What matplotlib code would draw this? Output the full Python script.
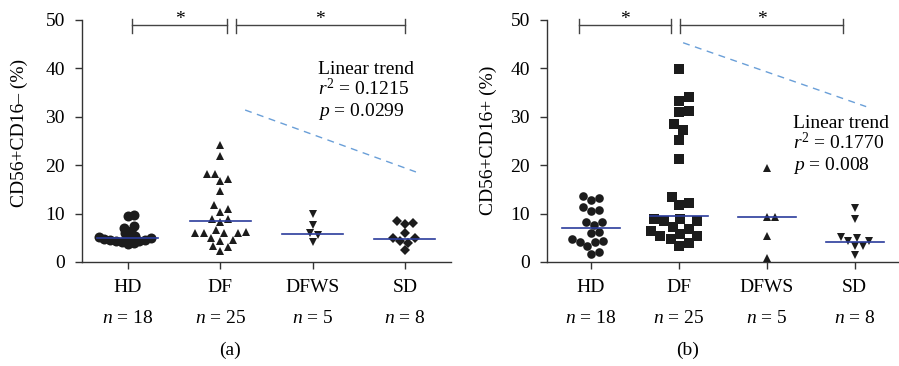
import numpy as np
import matplotlib
matplotlib.use("Agg")
import matplotlib.pyplot as plt

plt.rcParams['font.family'] = ['Liberation Serif', 'DejaVu Serif']
plt.rcParams['mathtext.fontset'] = 'custom'
plt.rcParams['mathtext.rm'] = 'Liberation Serif'
plt.rcParams['mathtext.it'] = 'Liberation Serif:italic'

# ---- donnees ----
groups = ["HD", "DF", "DFWS", "SD"]
n_sizes = [18, 25, 5, 8]

a_hd = [9.7, 9.5, 7.4, 7.1, 6.4, 5.9, 5.3, 5.2, 5.0, 5.0, 4.8, 4.6, 4.5, 4.4, 4.3, 4.2, 4.0, 3.8]
a_df = [24.2, 21.8, 18.1, 18.1, 17.2, 16.7, 14.7, 11.7, 11.0, 10.4, 8.9, 8.8, 8.3,
        6.7, 6.2, 6.0, 5.9, 5.9, 5.9, 4.9, 4.5, 4.3, 3.2, 3.1, 2.3]
a_dfws = [9.9, 7.7, 5.9, 5.5, 4.1]
a_sd = [8.4, 8.0, 7.8, 5.9, 4.9, 4.9, 4.3, 3.9, 2.4]
a_med = [5.0, 8.5, 5.7, 4.8]
a_trend_x = [2.27, 4.12]
a_trend_y = [31.4, 18.6]
a_stats = ["0.1215", "0.0299"]

b_hd = [13.6, 13.3, 12.8, 11.3, 10.7, 10.5, 8.2, 8.2, 7.6, 6.1, 6.0, 4.8, 4.3, 4.1, 4.1, 3.3, 2.1, 1.7]
b_df = [39.8, 34.0, 33.3, 31.1, 30.9, 28.5, 27.2, 25.2, 21.3, 13.4, 12.1, 11.7,
        8.9, 8.9, 8.4, 8.4, 7.3, 6.9, 6.4, 5.7, 5.3, 5.3, 4.8, 4.0, 3.4]
b_dfws = [19.4, 9.2, 9.2, 5.4, 0.8]
b_sd = [11.2, 8.8, 5.2, 5.0, 4.3, 4.3, 3.4, 3.4, 1.4]
b_med = [7.0, 9.5, 9.3, 4.1]
b_trend_x = [2.05, 4.13]
b_trend_y = [45.3, 32.1]
b_stats = ["0.1770", "0.008"]

a_brackets = [(1.05, 2.07), (2.17, 4.0)]
b_brackets = [(0.87, 1.91), (2.02, 3.87)]

BLACK = "#1c1c1c"
MEDC = "#2b3c9c"
TRENDC = "#6a9fd8"
AXC = "#333333"
FS = 14


def swarm(ax, pos, vals, d):
    """positions x en essaim (d en pixels)"""
    pts = ax.transData.transform(np.column_stack([np.full(len(vals), pos), vals]))
    x0 = pts[0, 0]
    ys = pts[:, 1]
    xs = np.zeros(len(vals))
    placed = []
    for i in np.argsort(ys):
        y = ys[i]
        near = [(px, py) for px, py in placed if abs(py - y) < d]
        cands = [0.0]
        for px, py in near:
            dx = np.sqrt(d * d - (py - y) ** 2)
            cands += [px + dx, px - dx]
        cands.sort(key=abs)
        for c in cands:
            if all((c - px) ** 2 + (y - py) ** 2 >= d * d - 1e-6 for px, py in near):
                break
        placed.append((c, y))
        xs[i] = c
    back = ax.transData.inverted().transform(np.column_stack([x0 + xs, ys]))
    return back[:, 0]


def panel(ax, series, markers, med, tx, ty, stats, brackets, txt_pos):
    ax.set_xlim(0.5, 4.5)
    ax.set_ylim(0, 50)
    for sp in ["top", "right"]:
        ax.spines[sp].set_visible(False)
    for sp in ["left", "bottom"]:
        ax.spines[sp].set_color(AXC)
        ax.spines[sp].set_linewidth(1.0)
    ax.set_yticks([0, 10, 20, 30, 40, 50])
    ax.set_xticks([1, 2, 3, 4])
    ax.set_xticklabels(groups, fontsize=FS)
    ax.tick_params(axis='y', labelsize=FS, length=5, width=1.0, color=AXC, pad=7)
    ax.tick_params(axis='x', length=5, width=1.0, color=AXC, pad=7)
    for k, (vals, (m, ms, d)) in enumerate(zip(series, markers)):
        xs = swarm(ax, k + 1, vals, d)
        ax.plot(xs, vals, ls='none', marker=m, ms=ms, color=BLACK, mec=BLACK,
                mew=0, clip_on=False, zorder=3)
        ax.plot([k + 1 - 0.33, k + 1 + 0.33], [med[k], med[k]], color=MEDC, lw=1.2, zorder=4)
        ax.text(k + 1, -11.6, "$n$ = %d" % n_sizes[k], ha='center', va='center', fontsize=FS)
    ax.plot(tx, ty, ls=(0, (5, 4)), color=TRENDC, lw=1.0)
    for x1, x2 in brackets:
        ax.plot([x1, x2], [49.0, 49.0], color="#444444", lw=1.0, clip_on=False)
        ax.plot([x1, x1], [50.3, 47.3], color="#444444", lw=1.0, clip_on=False)
        ax.plot([x2, x2], [50.3, 47.3], color="#444444", lw=1.0, clip_on=False)
        ax.text((x1 + x2) / 2, 50.0, "*", ha='center', va='center', fontsize=FS, clip_on=False)
    x0, y0 = txt_pos
    ax.text(x0, y0, "Linear trend", transform=ax.transAxes, fontsize=FS, va='baseline')
    ax.text(x0, y0 - 0.087, "$r^2$ = " + stats[0], transform=ax.transAxes, fontsize=FS, va='baseline')
    ax.text(x0, y0 - 0.174, "$p$ = " + stats[1], transform=ax.transAxes, fontsize=FS, va='baseline')


fig = plt.figure(figsize=(8.99, 3.66), dpi=100)
ax1 = fig.add_axes([0.0909, 0.2842, 0.4108, 0.6612])
ax2 = fig.add_axes([0.6081, 0.2842, 0.3916, 0.6612])

panel(ax1, [a_hd, a_df, a_dfws, a_sd],
      [('o', 7.2, 6.0), ('^', 6.4, 8.5), ('v', 6.4, 9), ('D', 5.0, 8.0)],
      a_med, a_trend_x, a_trend_y, a_stats, a_brackets, (0.64, 0.777))
panel(ax2, [b_hd, b_df, b_dfws, b_sd],
      [('o', 6.2, 8.5), ('s', 7.0, 10.5), ('^', 6.0, 8.5), ('v', 6.0, 8)],
      b_med, b_trend_x, b_trend_y, b_stats, b_brackets, (0.70, 0.554))

fig.text(0.022, 0.637, "CD56+CD16– (%)", rotation=90, ha='center', va='center', fontsize=FS)
fig.text(0.543, 0.617, "CD56+CD16+ (%)", rotation=90, ha='center', va='center', fontsize=FS)
fig.text(0.256, 0.044, "(a)", ha='center', va='center', fontsize=FS)
fig.text(0.765, 0.044, "(b)", ha='center', va='center', fontsize=FS)

fig.savefig("out.png", dpi=100)
